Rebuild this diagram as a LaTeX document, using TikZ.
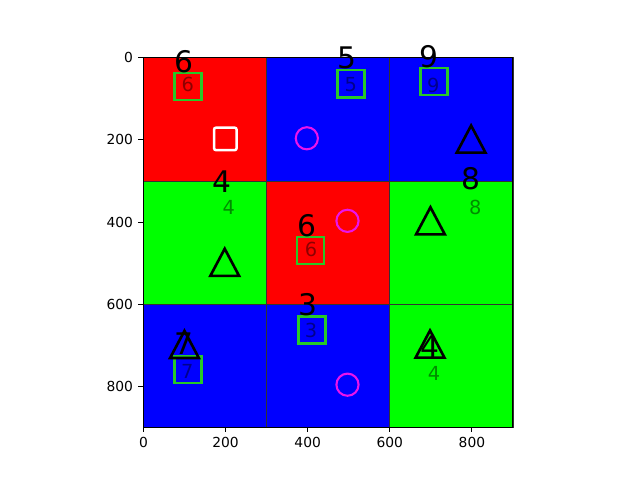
\documentclass[tikz,border=0pt]{standalone}
\usepackage{fontspec}
\setmainfont{DejaVu Sans}
\usepackage{xcolor}
\usepackage{tikz}

\definecolor{boxgreen}{RGB}{40,200,40}
\definecolor{ringpink}{RGB}{235,20,235}

\begin{document}
\begin{tikzpicture}[x=0.0254cm, y=-0.0254cm,
  bignum/.style={inner sep=0pt, font=\fontsize{21.5}{21.5}\selectfont},
  smallnum/.style={inner sep=0pt, text opacity=0.45, font=\fontsize{14}{14}\selectfont},
  sqbox/.style={draw=boxgreen, line width=1.9pt},
  ring/.style={draw=ringpink, line width=1.5pt},
  tri/.style={draw=black, line width=1.9pt},
  axtick/.style={line width=0.8pt},
  ticklabel/.style={inner sep=0pt, font=\fontsize{10}{12}\selectfont}]
  \useasboundingbox[fill=white] (0,0) rectangle (640,480);

  \begin{scope}[shift={(143.4,57.8)}, scale=0.410667]
    % grid of coloured cells
    \foreach \col/\row/\clr in {0/0/red, 1/0/blue, 2/0/blue, 0/1/green, 1/1/red, 2/1/green, 0/2/blue, 1/2/blue, 2/2/green}
      \draw[fill=\clr, draw=black!80, line width=0.5pt] (300*\col,300*\row) rectangle ++(300,300);

    % green squares
    \foreach \cx/\cy in {108/70, 505/63, 707/58, 407/469, 108/759, 410/663}
      \draw[sqbox] (\cx-33,\cy-33) rectangle (\cx+33,\cy+33);

    % magenta circles
    \foreach \cx/\cy in {398/196, 497/397, 497/796}
      \draw[ring] (\cx,\cy) circle (27);

    % triangles
    \foreach \cx/\cy in {798/198, 198/498, 699/397, 100/698, 698/697}
      \draw[tri] (\cx,\cy-33) -- (\cx+35,\cy+33) -- (\cx-35,\cy+33) -- cycle;

    % white square
    \draw[white, line width=1.8pt, rounded corners=1.5pt] (172,170) rectangle (227,225);

    % large labels
    \node[bignum] (big6a) at (99,10) {6};
    \node[bignum] (big5) at (495,0) {5};
    \node[bignum] (big9) at (696,-2) {9};
    \node[bignum] (big4a) at (192,302) {4};
    \node[bignum] (big6b) at (398,410) {6};
    \node[bignum] (big8) at (797,295) {8};
    \node[bignum] (big7) at (98,695) {7};
    \node[bignum] (big3) at (401,602) {3};
    \node[bignum] (big4b) at (698,703) {4};

    % small labels
    \node[smallnum] (sm6a) at (108,64) {6};
    \node[smallnum] (sm5) at (505,66) {5};
    \node[smallnum] (sm9) at (706,67) {9};
    \node[smallnum] (sm4a) at (208,364) {4};
    \node[smallnum] (sm6b) at (408,466) {6};
    \node[smallnum] (sm8) at (808,365) {8};
    \node[smallnum] (sm7) at (107,764) {7};
    \node[smallnum] (sm3) at (408,664) {3};
    \node[smallnum] (sm4b) at (708,769) {4};

    % axes
    \draw[line width=0.8pt] (-0.5,-0.5) rectangle (899.5,899.5);
    \foreach \t in {0,200,...,800} {
      \draw[axtick] (\t,899.5) -- (\t,911.3) node[ticklabel, anchor=north, yshift=-3.5pt] (xl\t) {\t};
      \draw[axtick] (-0.5,\t) -- (-12.3,\t) node[ticklabel, anchor=east, xshift=-3.5pt] (yl\t) {\t};
    }
  \end{scope}
\end{tikzpicture}
\end{document}
